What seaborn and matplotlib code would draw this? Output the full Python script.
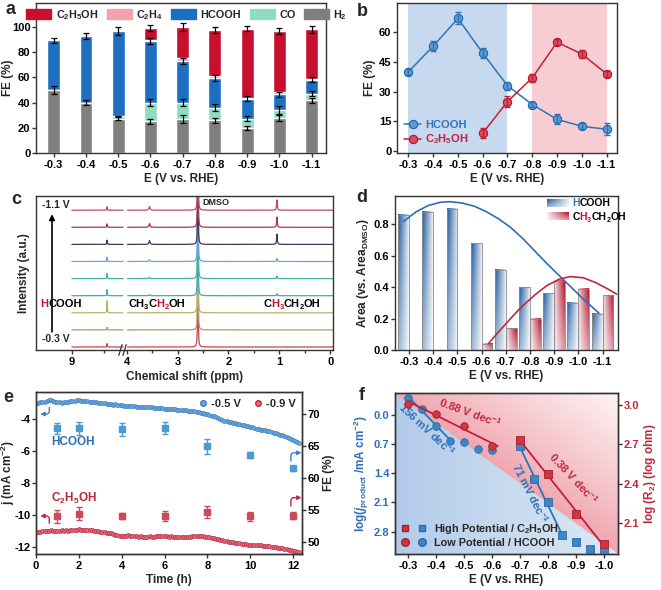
import numpy as np
import pandas as pd
import matplotlib
matplotlib.use("Agg")
import matplotlib.pyplot as plt
import seaborn as sns
from matplotlib.colors import to_rgb
from matplotlib.patches import Patch
from matplotlib.lines import Line2D
from matplotlib.legend_handler import HandlerTuple

# ---------------- data ----------------
E_labels = ['-0.3', '-0.4', '-0.5', '-0.6', '-0.7', '-0.8', '-0.9', '-1.0', '-1.1']

# panel a (stacked FE %)
fe_h2 = [50, 40, 27, 25, 27, 26, 20, 28, 42]
fe_co = [0, 0, 2.5, 15, 13, 10, 7, 6, 5]
fe_hcooh = [39.5, 53, 67.5, 49, 33, 23.5, 16, 12.5, 11]
fe_c2h4 = [0, 0, 0, 1, 2, 1.5, 1, 1.5, 1]
fe_etoh = [0, 0, 0, 9, 25, 36.5, 54.5, 49, 39]
err_h2 = [3, 2, 1.2, 2, 3.5, 2, 1.5, 3, 2]
err_co = [0, 0, 0, 3, 2.5, 3, 2, 3.5, 2]
err_hcooh = [2, 2.5, 3, 2.5, 2, 2, 2, 2, 2]
err_etoh = [0, 0, 0, 2.5, 3, 2.5, 2, 2.5, 2.5]

# panel b
b_hcooh = [40, 53, 67, 49.5, 33, 23.5, 16, 12.5, 11]
b_hcooh_err = [1.5, 2.5, 3, 2.5, 2, 1.5, 2.5, 1.5, 3]
b_etoh_labels = ['-0.6', '-0.7', '-0.8', '-0.9', '-1.0', '-1.1']
b_etoh = [9, 25, 37, 55, 49, 39]
b_etoh_err = [2.5, 3, 2, 1.5, 2, 1.5]

# panel c (NMR peak list, heights in units of trace spacing, bottom=-0.3 V to top=-1.1 V)
c_potentials = ['-0.3', '-0.4', '-0.5', '-0.6', '-0.7', '-0.8', '-0.9', '-1.0', '-1.1']
ppm_hcooh, ppm_ch2, ppm_dmso, ppm_ch3 = 8.45, 3.55, 2.60, 1.05
h_hcooh = [0.2, 0.15, 0.7, 0.35, 0.3, 0.25, 0.25, 0.2, 0.2]
h_ch2 = [0, 0, 0, 0.06, 0.08, 0.1, 0.22, 0.22, 0.22]
h_ch3 = [0, 0, 0, 0.12, 0.15, 0.18, 0.6, 0.6, 0.6]
h_dmso = [20, 20, 20, 20, 20, 20, 20, 20, 20]
trace_colors = ['#C8464A', '#B8926E', '#B4B46A', '#3FA8C6', '#40B4A0',
                '#6FA3DA', '#3A3A5E', '#A8384A', '#B84A6A']

# panel d
d_hcooh = [0.86, 0.88, 0.90, 0.68, 0.51, 0.40, 0.36, 0.30, 0.23]
d_etoh_labels = ['-0.6', '-0.7', '-0.8', '-0.9', '-1.0', '-1.1']
d_etoh = [0.04, 0.14, 0.20, 0.44, 0.39, 0.35]
d_fit_blue_E = [-0.276, -0.33, -0.38, -0.43, -0.47, -0.52, -0.57, -0.62, -0.67,
                -0.72, -0.77, -0.82, -0.87, -0.92, -0.97, -1.02, -1.085]
d_fit_blue = [0.817, 0.88, 0.92, 0.94, 0.944, 0.935, 0.915, 0.88, 0.835,
              0.78, 0.71, 0.63, 0.55, 0.475, 0.40, 0.325, 0.235]
d_fit_red_E = [-0.628, -0.67, -0.72, -0.759, -0.82, -0.87, -0.92, -0.965,
               -1.02, -1.07, -1.12, -1.158]
d_fit_red = [0.04, 0.115, 0.20, 0.265, 0.35, 0.41, 0.45, 0.467, 0.46, 0.43, 0.39, 0.356]

# panel e
e_time = [i / 10 for i in range(124)]
e_j_05 = [-3.05, -3.02, -2.98, -3.00, -2.95, -2.92, -2.86, -2.83, -2.88, -2.94,
          -2.97, -3.00, -3.03, -2.99, -2.97, -2.96, -2.93, -2.90, -2.88, -2.87,
          -2.86, -2.89, -2.91, -2.93, -2.92, -2.95, -2.97, -2.96, -2.99, -3.01,
          -3.03, -3.04, -3.06, -3.08, -3.09, -3.11, -3.13, -3.12, -3.15, -3.16,
          -3.17, -3.19, -3.20, -3.22, -3.21, -3.24, -3.25, -3.26, -3.26, -3.28,
          -3.28, -3.29, -3.30, -3.31, -3.31, -3.32, -3.34, -3.35, -3.36, -3.37,
          -3.38, -3.39, -3.40, -3.40, -3.42, -3.42, -3.44, -3.45, -3.46, -3.47,
          -3.48, -3.50, -3.52, -3.54, -3.56, -3.59, -3.61, -3.64, -3.67, -3.70,
          -3.73, -3.77, -3.81, -3.86, -3.92, -3.98, -4.03, -4.08, -4.13, -4.17,
          -4.21, -4.24, -4.27, -4.30, -4.33, -4.35, -4.38, -4.42, -4.45, -4.49,
          -4.52, -4.55, -4.58, -4.62, -4.65, -4.68, -4.71, -4.74, -4.77, -4.80,
          -4.83, -4.87, -4.91, -4.95, -4.99, -5.03, -5.08, -5.13, -5.19, -5.24,
          -5.30, -5.37, -5.44, -5.51]
e_j_09 = [-11.03, -11.05, -11.02, -11.00, -10.98, -10.96, -10.97, -10.95, -10.97, -10.96,
          -10.96, -10.98, -10.95, -10.96, -10.94, -10.96, -10.93, -10.91, -10.90, -10.89,
          -10.88, -10.90, -10.92, -10.90, -10.91, -10.92, -10.95, -10.97, -10.99, -11.01,
          -11.02, -11.05, -11.07, -11.10, -11.12, -11.13, -11.17, -11.21, -11.24, -11.27,
          -11.29, -11.32, -11.28, -11.26, -11.27, -11.27, -11.30, -11.31, -11.33, -11.32,
          -11.33, -11.35, -11.33, -11.31, -11.34, -11.33, -11.31, -11.30, -11.29, -11.28,
          -11.29, -11.31, -11.33, -11.32, -11.34, -11.33, -11.35, -11.37, -11.36, -11.38,
          -11.38, -11.36, -11.33, -11.31, -11.29, -11.29, -11.31, -11.30, -11.32, -11.33,
          -11.33, -11.36, -11.39, -11.43, -11.46, -11.50, -11.53, -11.56, -11.59, -11.62,
          -11.64, -11.66, -11.69, -11.71, -11.73, -11.75, -11.77, -11.79, -11.81, -11.83,
          -11.85, -11.85, -11.86, -11.87, -11.86, -11.87, -11.89, -11.90, -11.92, -11.94,
          -11.95, -11.97, -11.99, -12.01, -12.04, -12.06, -12.09, -12.11, -12.14, -12.17,
          -12.20, -12.24, -12.27, -12.31]
e_fe_time = [1, 2, 4, 6, 8, 10, 12]
e_fe_hcooh = [67.7, 67.7, 67.6, 67.8, 64.9, 63.6, 61.5]
e_fe_hcooh_err = [0.8, 1.0, 1.0, 0.9, 1.2, 0.5, 0.4]
e_fe_etoh = [54.0, 54.4, 54.0, 54.0, 54.7, 54.0, 54.1]
e_fe_etoh_err = [1.0, 1.0, 0.5, 0.8, 0.9, 0.7, 0.6]

# panel f
f_low_E = [-0.30, -0.35, -0.40, -0.45, -0.50, -0.55, -0.60]
f_low_logj = [-0.40, -0.136, 0.264, 0.624, 0.656, 0.816, 0.848]
f_high_E = [-0.70, -0.75, -0.80, -0.85, -0.90, -0.95, -1.00]
f_high_logj = [0.76, 1.544, 2.096, 2.888, 3.048, 3.208, 3.264]
f_low_R_E = [-0.30, -0.40, -0.50, -0.60]
f_low_logR = [3.013, 2.936, 2.838, 2.69]
f_high_R_E = [-0.70, -0.80, -0.90, -1.00]
f_high_logR = [2.731, 2.472, 2.167, 1.933]

# ---------------- style ----------------
sns.set_theme(style="ticks")
plt.rcParams.update({
    "font.family": ["Liberation Sans", "DejaVu Sans"],
    "font.weight": "bold",
    "axes.labelweight": "bold",
    "axes.labelsize": 8.5,
    "xtick.labelsize": 8, "ytick.labelsize": 8,
    "axes.edgecolor": "#333333", "axes.linewidth": 1.0,
    "xtick.color": "#333333", "ytick.color": "#333333",
    "xtick.labelcolor": "black", "ytick.labelcolor": "black",
    "xtick.major.size": 3, "ytick.major.size": 3,
    "xtick.minor.size": 2, "ytick.minor.size": 2,
    "xtick.major.width": 1, "ytick.major.width": 1,
    "xtick.major.pad": 2, "ytick.major.pad": 1,
    "axes.labelpad": 2,
    "axes.unicode_minus": False,
    "mathtext.fontset": "custom",
    "mathtext.rm": "Liberation Sans:bold",
    "mathtext.it": "Liberation Sans:italic:bold",
    "mathtext.bf": "Liberation Sans:bold",
    "mathtext.default": "rm",
    "legend.fontsize": 8,
})

W, H = 661, 590
fig = plt.figure(figsize=(W / 100, H / 100), dpi=100)
renderer = fig.canvas.get_renderer()


def rect(l, t, r, b):
    return [l / W, 1 - b / H, (r - l) / W, (b - t) / H]


def ctext(ax, x, y, segs, size=7.5):
    """multi-colour chemical formula: (text, colour, is_subscript) pieces on one baseline"""
    x0d, y0d = ax.transAxes.transform((x, y))
    cur = x0d
    inv = ax.transAxes.inverted()
    for s, c, sub in segs:
        fs = size * 0.68 if sub else size
        dy = -size * 0.25 * fig.dpi / 72 if sub else 0.0
        xa, ya = inv.transform((cur, y0d + dy))
        t = ax.text(xa, ya, s, color=c, fontsize=fs, fontweight='bold',
                    transform=ax.transAxes, ha='left', va='baseline', zorder=10)
        cur += t.get_window_extent(renderer).width


def panel_label(x, y, s):
    fig.text(x / W, 1 - y / H, s, fontsize=13, fontweight='bold', ha='center', va='center')


RED = '#C8102E'
K = 'black'
pos = np.arange(9)

# ---------------- panel a ----------------
axa = fig.add_axes(rect(36, 3, 326, 153))
h2 = np.array(fe_h2, float)
cum_co = h2 + np.array(fe_co)
cum_hc = cum_co + np.array(fe_hcooh)
cum_c2 = cum_hc + np.array(fe_c2h4)
cum_et = cum_c2 + np.array(fe_etoh)
colors_a = {'C$_2$H$_5$OH': '#C8102E', 'C$_2$H$_4$': '#F4A3A8', 'HCOOH': '#1F6FC0',
            'CO': '#8EDDBE', 'H$_2$': '#7F7F7F'}
for vals, col in [(cum_et, '#C8102E'), (cum_c2, '#F4A3A8'), (cum_hc, '#1F6FC0'),
                  (cum_co, '#8EDDBE'), (h2, '#7F7F7F')]:
    sns.barplot(x=E_labels, y=vals, order=E_labels, color=col, saturation=1,
                width=0.4, errorbar=None, ax=axa)
for top, seg, err in [(h2, np.array(fe_h2), err_h2), (cum_co, np.array(fe_co), err_co),
                      (cum_hc, np.array(fe_hcooh), err_hcooh), (cum_et, np.array(fe_etoh), err_etoh)]:
    m = seg > 0
    axa.errorbar(pos[m], top[m], yerr=np.array(err)[m], fmt='none', ecolor='black',
                 elinewidth=0.9, capsize=2, capthick=0.9, zorder=5)
axa.set_xlim(-0.55, 8.45)
axa.set_ylim(0, 119)
axa.set_yticks([0, 20, 40, 60, 80, 100])
axa.set_xlabel('E (V vs. RHE)')
axa.set_ylabel('FE (%)')
axa.yaxis.set_label_coords(-0.075, 0.5)
axa.legend(handles=[Patch(color=c, label=l) for l, c in colors_a.items()],
           loc='upper center', bbox_to_anchor=(0.52, 1.01), ncol=5, frameon=False,
           handlelength=2.3, handleheight=1.0, columnspacing=0.8, handletextpad=0.4,
           fontsize=7.8, borderaxespad=0.2)
panel_label(11, 10, 'a')

# ---------------- panel b ----------------
axb = fig.add_axes(rect(397, 3, 617, 153))
axb.axvspan(0, 4, color='#C6D9EF', zorder=0, lw=0)
axb.axvspan(5, 8, color='#F5CDD3', zorder=0, lw=0)
pos_et = np.array([E_labels.index(e) for e in b_etoh_labels])
sns.lineplot(x=pos, y=b_hcooh, color='#2E75B6', marker='o', markersize=6,
             markerfacecolor='#5B9BD5', markeredgecolor='#1F5FA0', lw=1.1, ax=axb, label='HCOOH')
sns.lineplot(x=pos_et, y=b_etoh, color='#C41E3A', marker='o', markersize=6,
             markerfacecolor='#DB4B5E', markeredgecolor='#A8102A', lw=1.1, ax=axb, label='C$_2$H$_5$OH')
axb.errorbar(pos, b_hcooh, yerr=b_hcooh_err, fmt='none', ecolor='#2E75B6', capsize=2, elinewidth=1)
axb.errorbar(pos_et, b_etoh, yerr=b_etoh_err, fmt='none', ecolor='#C41E3A', capsize=2, elinewidth=1)
axb.set_xticks(pos)
axb.set_xticklabels(E_labels)
axb.set_xlim(-0.46, 8.42)
axb.set_ylim(-1, 74.8)
axb.set_yticks([0, 15, 30, 45, 60])
axb.set_xlabel('E (V vs. RHE)')
axb.set_ylabel('FE (%)')
axb.legend(loc='lower left', frameon=False, labelcolor='linecolor', handlelength=1.6,
           handletextpad=0.3, borderaxespad=0.2, labelspacing=0.2, fontsize=8)
panel_label(362, 12, 'b')

# ---------------- panel c ----------------
axcL = fig.add_axes(rect(36, 196, 125, 350))
axcR = fig.add_axes(rect(125, 196, 333, 350))


def lor(x, x0, h, w):
    return h * w ** 2 / ((x - x0) ** 2 + w ** 2)


xL = np.linspace(9.0, 8.2, 1600)
xR = np.linspace(3.98, -0.05, 8000)
for i in range(9):
    yL = i + lor(xL, ppm_hcooh, h_hcooh[i], 0.004)
    yR = (i + lor(xR, ppm_ch2, h_ch2[i], 0.012) + lor(xR, ppm_ch3, h_ch3[i], 0.008)
          + lor(xR, ppm_dmso, h_dmso[i], 0.003))
    axcL.plot(xL, yL, color=trace_colors[i], lw=0.9)
    axcR.plot(xR, yR, color=trace_colors[i], lw=0.9)
for ax in (axcL, axcR):
    ax.set_ylim(-0.175, 8.83)
    ax.set_yticks([])
axcL.set_xlim(9.56, 8.17)
axcR.set_xlim(4.03, -0.05)
axcL.set_xticks([9])
axcL.set_xticks([8.5], minor=True)
axcR.set_xticks([4, 3, 2, 1, 0])
axcR.set_xticks([3.5, 2.5, 1.5, 0.5], minor=True)
axcL.spines['right'].set_visible(False)
axcR.spines['left'].set_visible(False)
axcL.set_ylabel('Intensity (a.u.)', labelpad=4)
for dx in (-0.022, -0.002):
    axcR.plot([dx - 0.008, dx + 0.008], [-0.035, 0.035], transform=axcR.transAxes,
              clip_on=False, color='#333333', lw=0.9)
axcL.annotate('', xy=(0.18, 0.90), xytext=(0.18, 0.10), xycoords='axes fraction',
              arrowprops=dict(arrowstyle='-|>', color='black', lw=1.2, mutation_scale=8))
axcL.text(0.07, 0.94, '-1.1 V', transform=axcL.transAxes, fontsize=7.5, va='center')
axcL.text(0.07, 0.07, '-0.3 V', transform=axcL.transAxes, fontsize=7.5, va='center')
ctext(axcL, 0.045, 0.282, [('H', RED, False), ('COOH', K, False)], size=8)
ctext(axcR, 0.015, 0.282, [('CH', K, False), ('3', K, True), ('C', K, False),
                           ('H', RED, False), ('2', RED, True), ('OH', K, False)], size=8)
ctext(axcR, 0.665, 0.282, [('C', K, False), ('H', RED, False), ('3', RED, True),
                           ('CH', K, False), ('2', K, True), ('OH', K, False)], size=8)
axcR.text(0.37, 0.955, 'DMSO', transform=axcR.transAxes, fontsize=6.5, va='center')
fig.text(184.5 / W, 1 - 377 / H, 'Chemical shift (ppm)', ha='center', va='center',
         fontsize=8.5, fontweight='bold')
panel_label(16, 199, 'c')

# ---------------- panel d ----------------
axd = fig.add_axes(rect(395, 196, 618, 350))
df_d = pd.DataFrame({
    'E': E_labels + d_etoh_labels,
    'area': d_hcooh + d_etoh,
    'species': ['HCOOH'] * len(d_hcooh) + ['CH3CH2OH'] * len(d_etoh),
})
DBLUE, DRED = '#1F5A9E', '#B3132E'
sns.barplot(data=df_d, x='E', y='area', hue='species', order=E_labels,
            hue_order=['HCOOH', 'CH3CH2OH'], palette={'HCOOH': DBLUE, 'CH3CH2OH': DRED},
            width=0.9, saturation=1, legend=False, errorbar=None, ax=axd)


def gradient_rgb(dark, left_dark, nx=40, ny=40):
    X, Y = np.meshgrid(np.linspace(0, 1, nx), np.linspace(0, 1, ny))
    hx = (1 - X) if left_dark else X
    t = np.clip((0.08 + 0.92 * hx ** 0.9) * (0.45 + 0.55 * Y), 0, 1)
    d = np.array(to_rgb(dark))
    return np.ones(3) * (1 - t)[..., None] + d * t[..., None]


for p in list(axd.patches):
    h = p.get_height()
    if not np.isfinite(h) or h <= 0:
        continue
    fc = p.get_facecolor()
    is_blue = fc[2] > fc[0]
    x0, w = p.get_x(), p.get_width()
    axd.imshow(gradient_rgb(DBLUE if is_blue else DRED, is_blue), extent=(x0, x0 + w, 0, h),
               origin='lower', aspect='auto', zorder=2, interpolation='bilinear')
    p.set_facecolor('none')
    p.set_edgecolor('#8A8A8A')
    p.set_linewidth(0.6)
    p.set_zorder(3)
to_pos = lambda E: (-0.3 - np.array(E)) / 0.1
axd.plot(to_pos(d_fit_blue_E), d_fit_blue, color='#2E6DB4', lw=1.2, zorder=4)
axd.plot(to_pos(d_fit_red_E), d_fit_red, color='#C0283E', lw=1.2, zorder=4)
axd.set_yticks([0, 0.2, 0.4, 0.6, 0.8])
axd.set_xlabel('E (V vs. RHE)')
axd.set_ylabel('Area (vs. Area$_{\\rm DMSO}$)')
axd.imshow(gradient_rgb(DBLUE, True), extent=(0.68, 0.777, 0.93, 0.98), transform=axd.transAxes,
           origin='lower', aspect='auto', zorder=5)
axd.imshow(gradient_rgb(DRED, False), extent=(0.68, 0.777, 0.845, 0.895), transform=axd.transAxes,
           origin='lower', aspect='auto', zorder=5)
axd.set_xlim(-0.58, 8.64)
axd.set_ylim(0, 0.98)
ctext(axd, 0.795, 0.932, [('H', '#2E75B6', False), ('COOH', K, False)], size=7.5)
ctext(axd, 0.795, 0.847, [('C', K, False), ('H', RED, False), ('3', RED, True),
                          ('CH', K, False), ('2', K, True), ('OH', K, False)], size=7.5)
panel_label(362, 198, 'd')

# ---------------- panel e ----------------
axe = fig.add_axes(rect(36, 392, 302, 554))
axe2 = axe.twinx()
EB, ER = '#3A7FC1', '#C0283E'
axe.plot(e_time, e_j_05, 'o', ms=2.8, mfc='#6FA8DC', mec=EB, mew=0.5)
axe.plot(e_time, e_j_09, 'o', ms=2.8, mfc='#E07080', mec=ER, mew=0.5)
axe2.errorbar(e_fe_time, e_fe_hcooh, yerr=e_fe_hcooh_err, fmt='s', ms=4, color='#4A9AD4',
              ecolor='#4A9AD4', capsize=2, elinewidth=1)
axe2.errorbar(e_fe_time, e_fe_etoh, yerr=e_fe_etoh_err, fmt='s', ms=4, color='#CC4A5A',
              ecolor='#CC4A5A', capsize=2, elinewidth=1)
axe.set_xlim(0, 12.42)
axe.set_ylim(-12.41, -2.35)
axe.set_yticks([-12, -10, -8, -6, -4])
axe.set_xticks([0, 2, 4, 6, 8, 10, 12])
axe2.set_ylim(48.1, 73.4)
axe2.set_yticks([50, 55, 60, 65, 70])
axe.set_xlabel('Time (h)')
axe.set_ylabel('j (mA cm$^{-2}$)')
axe.yaxis.set_label_coords(-0.07, 0.5)
axe2.set_ylabel('FE (%)')
axe.text(0.72, -5.45, 'HCOOH', color='#2F6EB5', fontsize=8.5, va='center')
axe.text(0.72, -8.96, 'C$_2$H$_5$OH', color='#B5283B', fontsize=8.5, va='center')
arw = dict(arrowstyle='-|>', lw=1, mutation_scale=6, shrinkA=0, shrinkB=0)
axe.annotate('', xy=(0.2, -3.72), xytext=(0.62, -3.3),
             arrowprops=dict(color=EB, connectionstyle='angle,angleA=-90,angleB=0,rad=3', **arw))
axe.annotate('', xy=(0.2, -10.05), xytext=(0.62, -10.5),
             arrowprops=dict(color=ER, connectionstyle='angle,angleA=90,angleB=0,rad=3', **arw))
axe2.annotate('', xy=(12.4, 63.9), xytext=(11.9, 62.6),
              arrowprops=dict(color=EB, connectionstyle='angle,angleA=90,angleB=180,rad=3', **arw))
axe2.annotate('', xy=(12.4, 56.9), xytext=(11.9, 55.6),
              arrowprops=dict(color=ER, connectionstyle='angle,angleA=90,angleB=180,rad=3', **arw))
axe2.legend(handles=[Line2D([], [], ls='', marker='o', ms=4, mfc='#6FA8DC', mec=EB),
                     Line2D([], [], ls='', marker='o', ms=4, mfc='#E07080', mec=ER)],
            labels=['-0.5 V', '-0.9 V'], loc='upper right', ncol=2, frameon=False,
            handletextpad=0.1, columnspacing=0.9, borderaxespad=0.2, handlelength=1.2, fontsize=8)
panel_label(8, 397, 'e')

# ---------------- panel f ----------------
axf = fig.add_axes(rect(395, 393, 618, 554))
n = 300
U, V = np.meshgrid(np.linspace(0, 1, n), np.linspace(0, 1, n))
tr = np.clip(U + V - 1, 0, 1) ** 0.9
red_img = (np.array(to_rgb('#F0A5AF')) * (1 - tr)[..., None]
           + np.array(to_rgb('#FDF4F5')) * tr[..., None])
tb = U
blue_img = (np.array(to_rgb('#B2CBEA')) * (1 - tb)[..., None]
            + np.array(to_rgb('#DDE9F5')) * tb[..., None])
bg = np.where((U + V < 1)[..., None], blue_img, red_img)
axf.imshow(bg, extent=(0, 1, 0, 1), transform=axf.transAxes, origin='lower',
           aspect='auto', zorder=0)
axf2 = axf.twinx()
FB, FR = '#3A86C6', '#D0343F'
sns.scatterplot(x=f_low_E, y=f_low_logj, marker='o', s=30, color=FB, edgecolor='#2A6BA5',
                linewidth=0.6, ax=axf, zorder=3)
sns.scatterplot(x=f_high_E, y=f_high_logj, marker='s', s=26, color=FB, edgecolor='#2A6BA5',
                linewidth=0.6, ax=axf, zorder=3)
sns.scatterplot(x=f_low_R_E, y=f_low_logR, marker='o', s=30, color=FR, edgecolor='#A81E2C',
                linewidth=0.6, ax=axf2, zorder=3)
sns.scatterplot(x=f_high_R_E, y=f_high_logR, marker='s', s=26, color=FR, edgecolor='#A81E2C',
                linewidth=0.6, ax=axf2, zorder=3)


def fit_line(ax, xs, ys, x_from, x_to, color):
    k, b0 = np.polyfit(xs, ys, 1)
    xx = np.array([x_from, x_to])
    ax.plot(xx, k * xx + b0, color=color, lw=1.3, zorder=2)


fit_line(axf, f_low_E[:4], f_low_logj[:4], -0.30, -0.455, '#2E75B6')
fit_line(axf, f_high_E[:4], f_high_logj[:4], -0.70, -0.85, '#2E75B6')
fit_line(axf2, f_low_R_E, f_low_logR, -0.30, -0.62, '#C41E3A')
fit_line(axf2, f_high_R_E, f_high_logR, -0.70, -1.00, '#C41E3A')
axf.set_xlim(-0.252, -1.051)
axf.set_ylim(3.336, -0.52)
axf2.set_ylim(1.859, 3.095)
axf.set_xticks([-0.3, -0.4, -0.5, -0.6, -0.7, -0.8, -0.9, -1.0])
axf.set_xticklabels(['-0.3', '-0.4', '-0.5', '-0.6', '-0.7', '-0.8', '-0.9', '-1.0'])
axf.set_yticks([0.0, 0.7, 1.4, 2.1, 2.8])
axf.set_yticklabels(['0.0', '0.7', '1.4', '2.1', '2.8'])
axf2.set_yticks([2.1, 2.4, 2.7, 3.0])
axf.tick_params(axis='y', labelcolor='#2F6EB5')
axf2.tick_params(axis='y', labelcolor='#C0283E')
axf.set_xlabel('E (V vs. RHE)')
axf.set_ylabel('log($\\it{j}$$_{\\rm product}$ /mA cm$^{-2}$)', color='#2F6EB5')
axf2.set_ylabel('log (R$_2$) (log ohm)', color='#C0283E')
axf.text(-0.366, 0.36, '156 mV dec$^{-1}$', color='#2F6EB5', fontsize=8, rotation=-43,
         ha='center', va='center')
axf.text(-0.735, 1.88, '71 mV dec$^{-1}$', color='#2F6EB5', fontsize=8, rotation=-63,
         ha='center', va='center')
axf2.text(-0.52, 2.946, '0.88 V dec$^{-1}$', color='#C0283E', fontsize=8, rotation=-20,
          ha='center', va='center')
axf2.text(-0.89, 2.44, '0.38 V dec$^{-1}$', color='#C0283E', fontsize=8, rotation=-47,
          ha='center', va='center')
hr_s = Line2D([], [], ls='', marker='s', ms=5, mfc=FR, mec='#A81E2C')
hb_s = Line2D([], [], ls='', marker='s', ms=5, mfc=FB, mec='#2A6BA5')
hr_c = Line2D([], [], ls='', marker='o', ms=5.5, mfc=FR, mec='#A81E2C')
hb_c = Line2D([], [], ls='', marker='o', ms=5.5, mfc=FB, mec='#2A6BA5')
axf2.legend(handles=[(hr_s, hb_s), (hr_c, hb_c)],
            labels=['High Potential / C$_2$H$_5$OH', 'Low Potential / HCOOH'],
            handler_map={tuple: HandlerTuple(ndivide=None, pad=0.8)},
            loc='lower left', frameon=False, fontsize=7.8, handlelength=2.2,
            handletextpad=0.8, labelspacing=0.15, borderaxespad=0.2)
panel_label(362, 395, 'f')

fig.savefig('out.png', dpi=100)
